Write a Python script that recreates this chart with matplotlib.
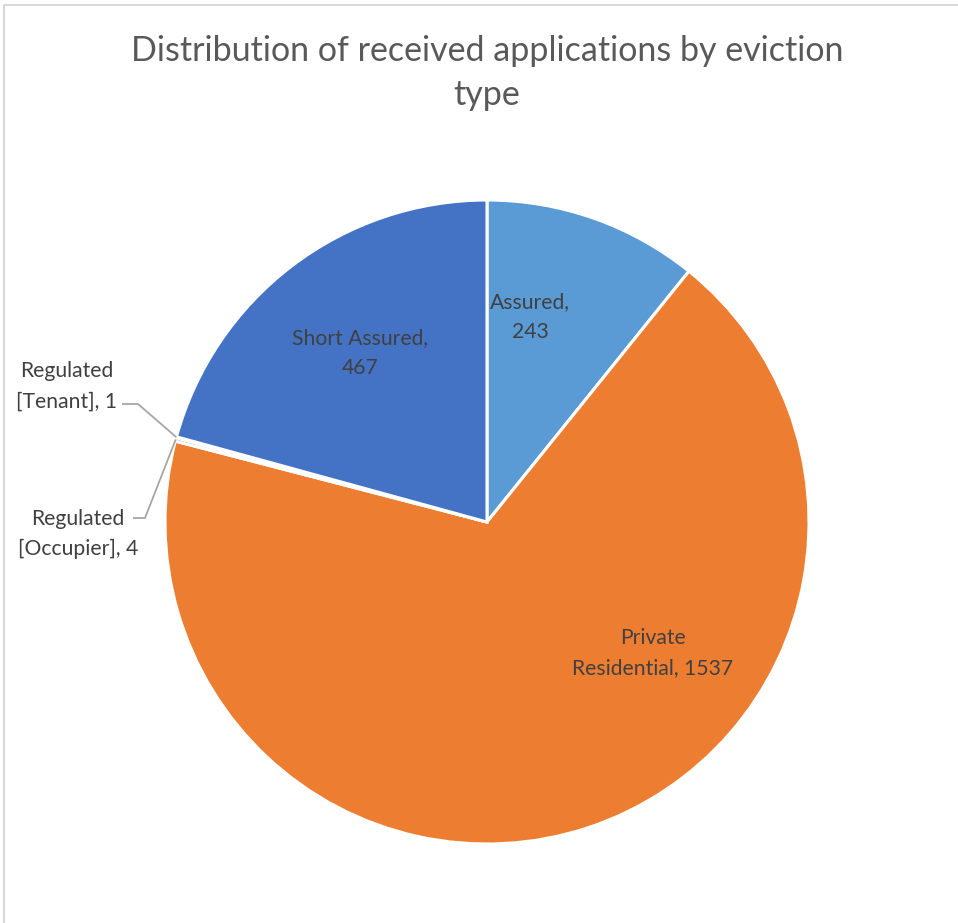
import numpy as np
import matplotlib.pyplot as plt

# eviction types, clockwise from 12 o'clock
categories = ['Assured', 'Private Residential', 'Regulated [Occupier]',
              'Regulated [Tenant]', 'Short Assured']
values = [243, 1537, 4, 1, 467]
label_text = ['Assured,\n243', 'Private\nResidential, 1537', 'Regulated\n[Occupier], 4',
              'Regulated\n[Tenant], 1', 'Short Assured,\n467']
colors = ['#5B9BD5', '#ED7D31', '#A5A5A5', '#FFC000', '#4472C4']

W, H = 958, 923
cx, cy, r = 487, H - 522, 322

plt.rcParams['font.family'] = ['Lato', 'DejaVu Sans']

fig = plt.figure(figsize=(W / 100, H / 100), dpi=100)
ax = fig.add_axes([0, 0, 1, 1])

wedges, _ = ax.pie(values, colors=colors, startangle=90, counterclock=False,
                   center=(cx, cy), radius=r,
                   wedgeprops=dict(edgecolor='white', linewidth=2.2))

# pie() resets the limits, so work in pixel units afterwards
ax.set_xlim(0, W)
ax.set_ylim(0, H)
ax.set_aspect('equal')
ax.axis('off')

# chart frame (only top and left edges fall inside the image)
ax.plot([4.5, 4.5, W], [0, H - 4.5, H - 4.5], color='#D9D9D9', lw=1.5, clip_on=False)

ax.text(cx, H - 73, 'Distribution of received applications by eviction\ntype',
        ha='center', va='center', fontsize=24.5, color='#595959', linespacing=1.48)

lab_col = '#404040'
fs = 15.2
ls = 1.66

# labels placed inside the big slices
inside = {0: (530, 317), 1: (653, 653), 4: (360, 353)}
for i, (x, y) in inside.items():
    ax.text(x, H - y, label_text[i], ha='center', va='center', fontsize=fs,
            color=lab_col, linespacing=ls)

# small slices get outside labels with leader lines
total = sum(values)
cum = np.cumsum(values)
outside = {3: ((67, 386), (122, 404), (138, 404)),
           2: ((78, 534), (133, 518), (145, 518))}
for i, (txt_xy, line_start, elbow) in outside.items():
    mid = (cum[i] - values[i] / 2) / total * 2 * np.pi
    px = cx + r * np.sin(mid)
    py = cy + r * np.cos(mid)
    ax.text(txt_xy[0], H - txt_xy[1], label_text[i], ha='center', va='center',
            fontsize=fs, color=lab_col, linespacing=ls)
    ax.plot([line_start[0], elbow[0], px], [H - line_start[1], H - elbow[1], py],
            color='#A6A6A6', lw=1.3, solid_capstyle='butt')

fig.savefig('out.png', dpi=100, facecolor='white')
